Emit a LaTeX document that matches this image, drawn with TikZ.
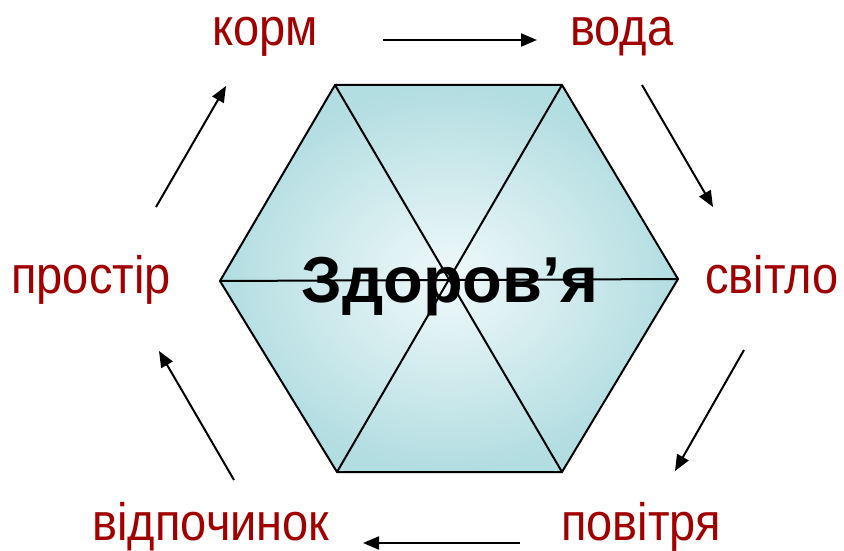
\documentclass[tikz,border=0pt]{standalone}
\usepackage{fontspec}
\setmainfont{Liberation Sans}
\usetikzlibrary{arrows.meta}
\definecolor{lblred}{RGB}{160,0,0}
\definecolor{hexout}{RGB}{178,221,225}
\definecolor{hexin}{RGB}{240,249,250}
\tikzset{
  lbl/.style={text=lblred, font=\fontsize{47}{50}\selectfont, anchor=base, inner sep=0pt, yscale=1.12},
  title/.style={text=black, font=\fontsize{65}{70}\selectfont\bfseries, anchor=base, inner sep=0pt},
  arr/.style={line width=2pt, -{Triangle[length=16pt,width=13pt]}},
  edge/.style={line width=2pt, black}
}
\begin{document}
\begin{tikzpicture}[x=1pt,y=-1pt]
\useasboundingbox (0,0) rectangle (844,551);
% hexagon vertices
\coordinate (TL) at (335,85);
\coordinate (TR) at (562,85);
\coordinate (R) at (678,279);
\coordinate (BR) at (562,472);
\coordinate (BL) at (337,472);
\coordinate (L) at (220,281);
\shade[inner color=hexin, outer color=hexout] (TL)--(TR)--(R)--(BR)--(BL)--(L)--cycle;
\draw[edge] (TL)--(BR);
\draw[edge] (TR)--(BL);
\draw[edge] (L)--(R);
\draw[edge, line join=miter] (TL)--(TR)--(R)--(BR)--(BL)--(L)--cycle;
\node[title] (zd) at (450,302) {Здоров’я};
% labels
\node[lbl] (korm) at (265,46) {корм};
\node[lbl] (voda) at (622,46) {вода};
\node[lbl] (svitlo) at (772,293) {світло};
\node[lbl] (povitria) at (641,540) {повітря};
\node[lbl] (vidp) at (211,540) {відпочинок};
\node[lbl] (prostir) at (91,293) {простір};
% arrow ends
\coordinate (a1s) at (383,40); \coordinate (a1e) at (537,40);
\coordinate (a2s) at (642,85); \coordinate (a2e) at (713,207);
\coordinate (a3s) at (744,350); \coordinate (a3e) at (675,471);
\coordinate (a4s) at (520,543); \coordinate (a4e) at (363,543);
\coordinate (a5s) at (234,480); \coordinate (a5e) at (159,351);
\coordinate (a6s) at (156,207); \coordinate (a6e) at (226,86);
\draw[arr] (a1s) -- (a1e);
\draw[arr] (a2s) -- (a2e);
\draw[arr] (a3s) -- (a3e);
\draw[arr] (a4s) -- (a4e);
\draw[arr] (a5s) -- (a5e);
\draw[arr] (a6s) -- (a6e);
\end{tikzpicture}
\end{document}
